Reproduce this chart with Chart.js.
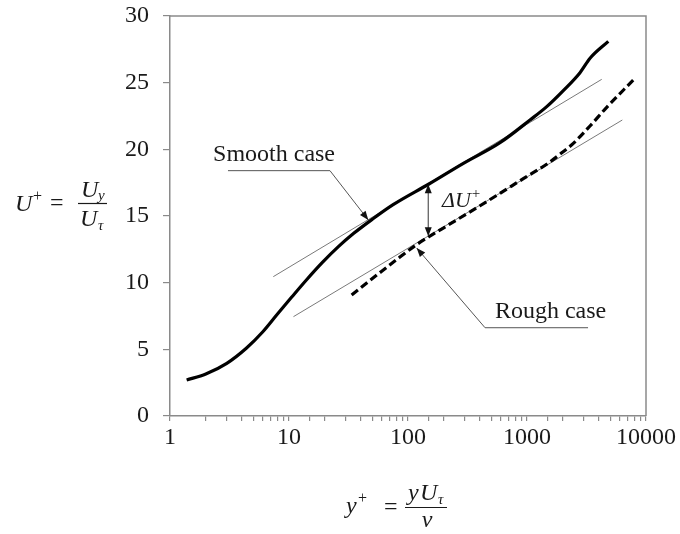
<!DOCTYPE html>
<html>
<head>
<meta charset="utf-8">
<script src="https://cdn.jsdelivr.net/npm/chart.js@4.4.1/dist/chart.umd.min.js"></script>
<style>
  html, body { margin: 0; padding: 0; background: #fff; }
  #wrap { width: 680px; height: 534px; position: relative; }
</style>
</head>
<body>
<div id="wrap"><canvas id="c" width="680" height="534"></canvas></div>
<script>
// velocity profiles, y+ against U+
const smoothY = [1.38, 2.0, 3.0, 4.4, 6.0, 8.0, 10.5, 14, 19, 26, 35, 50, 75, 150, 292, 593, 1060, 1465, 2018, 2788, 3400, 4822];
const smoothU = [2.7, 3.15, 3.95, 5.1, 6.3, 7.65, 8.9, 10.2, 11.5, 12.7, 13.7, 14.75, 15.85, 17.4, 18.95, 20.5, 22.2, 23.2, 24.4, 25.75, 26.85, 28.1];
const roughY  = [33.6, 58, 85, 118, 160, 211, 400, 593, 931, 1500, 2000, 2450, 3383, 4677, 7822];
const roughU  = [9.08, 10.75, 11.9, 12.85, 13.6, 14.25, 15.75, 16.7, 17.8, 18.95, 19.8, 20.45, 21.75, 23.15, 25.2];

// log-law lines, end points only
const smoothLogY = [7.38, 4246];
const smoothLogU = [10.45, 25.25];
const roughLogY  = [10.9, 6324];
const roughLogU  = [7.45, 22.2];

const xTicks = [1, 10, 100, 1000, 10000];
const yTicks = [0, 5, 10, 15, 20, 25, 30];

// callouts, in data units
const callouts = [
  { text: 'Smooth case', at: [2.30, 19.15], shelf: [[3.07, 18.4], [22.1, 18.4]], tip: [46.4, 14.7] },
  { text: 'Rough case',  at: [538, 7.33],  shelf: [[3258, 6.62], [444, 6.62]],  tip: [118.3, 12.6] }
];
const deltaU = { x: 148, from: 17.38, to: 13.48, label: [193, 15.7] };

const pts = (xs, ys) => xs.map((v, i) => ({ x: v, y: ys[i] }));

const SERIF = "'Liberation Serif', 'Times New Roman', serif";
const AXIS = '#8a8a8a';
const INK = '#1a1a1a';

function arrowHead(ctx, from, to, len, half) {
  const a = Math.atan2(to[1] - from[1], to[0] - from[0]);
  ctx.beginPath();
  ctx.moveTo(to[0], to[1]);
  ctx.lineTo(to[0] - len * Math.cos(a) + half * Math.sin(a), to[1] - len * Math.sin(a) - half * Math.cos(a));
  ctx.lineTo(to[0] - len * Math.cos(a) - half * Math.sin(a), to[1] - len * Math.sin(a) + half * Math.cos(a));
  ctx.closePath();
  ctx.fill();
}

const notes = {
  id: 'notes',
  afterDatasetsDraw(chart) {
    const { ctx, chartArea: ca, scales: { x, y } } = chart;
    const P = (v) => [x.getPixelForValue(v[0]), y.getPixelForValue(v[1])];
    ctx.save();

    // top / right frame
    ctx.strokeStyle = AXIS;
    ctx.lineWidth = 1.5;
    ctx.beginPath();
    ctx.moveTo(ca.left, ca.top);
    ctx.lineTo(ca.right, ca.top);
    ctx.lineTo(ca.right, ca.bottom);
    ctx.stroke();

    // labelled leaders
    callouts.forEach(c => {
      const a = P(c.shelf[0]), b = P(c.shelf[1]), t = P(c.tip);
      ctx.strokeStyle = '#555';
      ctx.lineWidth = 1;
      ctx.beginPath();
      ctx.moveTo(a[0], a[1]);
      ctx.lineTo(b[0], b[1]);
      ctx.lineTo(t[0], t[1]);
      ctx.stroke();
      ctx.fillStyle = '#111';
      arrowHead(ctx, b, t, 9, 3.5);
      const p = P(c.at);
      ctx.font = '24px ' + SERIF;
      ctx.fillStyle = INK;
      ctx.textAlign = 'left';
      ctx.textBaseline = 'alphabetic';
      ctx.fillText(c.text, p[0], p[1]);
    });

    // ΔU+ double arrow
    const top = P([deltaU.x, deltaU.from]), bot = P([deltaU.x, deltaU.to]);
    ctx.strokeStyle = '#555';
    ctx.lineWidth = 1.2;
    ctx.beginPath();
    ctx.moveTo(top[0], top[1] + 6);
    ctx.lineTo(bot[0], bot[1] - 6);
    ctx.stroke();
    ctx.fillStyle = '#111';
    arrowHead(ctx, bot, top, 9, 3.5);
    arrowHead(ctx, top, bot, 9, 3.5);
    const lp = P(deltaU.label);
    ctx.fillStyle = INK;
    ctx.font = 'italic 22px ' + SERIF;
    ctx.fillText('ΔU', lp[0], lp[1]);
    const w = ctx.measureText('ΔU').width;
    ctx.font = '15px ' + SERIF;
    ctx.fillText('+', lp[0] + w + 1, lp[1] - 9);

    // axis titles
    const it = 'italic 24px ' + SERIF, rm = '24px ' + SERIF, sm = 'italic 15px ' + SERIF, smr = '16px ' + SERIF;
    ctx.fillStyle = INK;
    ctx.strokeStyle = INK;
    ctx.lineWidth = 1.2;

    // U+ = Uy / Uτ
    ctx.font = it; ctx.fillText('U', 15, 211);
    ctx.font = smr; ctx.fillText('+', 33, 201);
    ctx.font = rm; ctx.fillText('=', 50, 210);
    ctx.beginPath(); ctx.moveTo(78, 203.5); ctx.lineTo(107, 203.5); ctx.stroke();
    ctx.font = it; ctx.fillText('U', 81, 197);
    ctx.font = sm; ctx.fillText('y', 98, 200);
    ctx.font = it; ctx.fillText('U', 80, 226);
    ctx.font = sm; ctx.fillText('τ', 98, 230);

    // y+ = yUτ / ν
    ctx.font = it; ctx.fillText('y', 346, 513);
    ctx.font = smr; ctx.fillText('+', 358, 503);
    ctx.font = rm; ctx.fillText('=', 384, 514);
    ctx.beginPath(); ctx.moveTo(405, 507.5); ctx.lineTo(447, 507.5); ctx.stroke();
    ctx.font = it; ctx.fillText('y', 408, 500);
    ctx.fillText('U', 420, 500);
    ctx.font = sm; ctx.fillText('τ', 438, 504);
    ctx.font = it; ctx.textAlign = 'center'; ctx.fillText('ν', 427, 527);

    ctx.restore();
  }
};

const isDecade = v => Math.abs(Math.log10(v) - Math.round(Math.log10(v))) < 1e-9;

new Chart(document.getElementById('c'), {
  type: 'line',
  data: {
    datasets: [
      { data: pts(smoothY, smoothU), borderColor: '#000', borderWidth: 3.2, cubicInterpolationMode: 'monotone', pointRadius: 0 },
      { data: pts(roughY, roughU), borderColor: '#000', borderWidth: 3.2, borderDash: [8, 4], cubicInterpolationMode: 'monotone', pointRadius: 0 },
      { data: pts(smoothLogY, smoothLogU), borderColor: '#7a7a7a', borderWidth: 1, pointRadius: 0 },
      { data: pts(roughLogY, roughLogU), borderColor: '#7a7a7a', borderWidth: 1, pointRadius: 0 }
    ]
  },
  options: {
    responsive: false,
    animation: false,
    layout: { padding: { left: 0, top: 16, right: 34, bottom: 0 } },
    plugins: { legend: { display: false }, tooltip: { enabled: false } },
    scales: {
      x: {
        type: 'logarithmic',
        min: xTicks[0],
        max: xTicks[xTicks.length - 1],
        afterFit(s) { s.height = 118; },
        border: { color: AXIS, width: 1.5 },
        grid: { drawOnChartArea: false, drawTicks: true, tickLength: 5, color: AXIS, lineWidth: 1.2 },
        ticks: {
          autoSkip: false, maxRotation: 0, padding: 2, color: INK,
          font: { family: SERIF, size: 24 },
          callback: v => (isDecade(v) && xTicks.includes(Math.round(v))) ? String(Math.round(v)) : ''
        }
      },
      y: {
        min: yTicks[0],
        max: yTicks[yTicks.length - 1],
        afterFit(s) { s.width = 170; s.paddingTop = 0; s.paddingBottom = 0; },
        afterBuildTicks(s) { s.ticks = yTicks.map(v => ({ value: v })); },
        border: { color: AXIS, width: 1.5 },
        grid: { drawOnChartArea: false, drawTicks: true, tickLength: 7, color: AXIS, lineWidth: 1.2 },
        ticks: { padding: 14, color: INK, font: { family: SERIF, size: 24 } }
      }
    }
  },
  plugins: [notes]
});
</script>
</body>
</html>
